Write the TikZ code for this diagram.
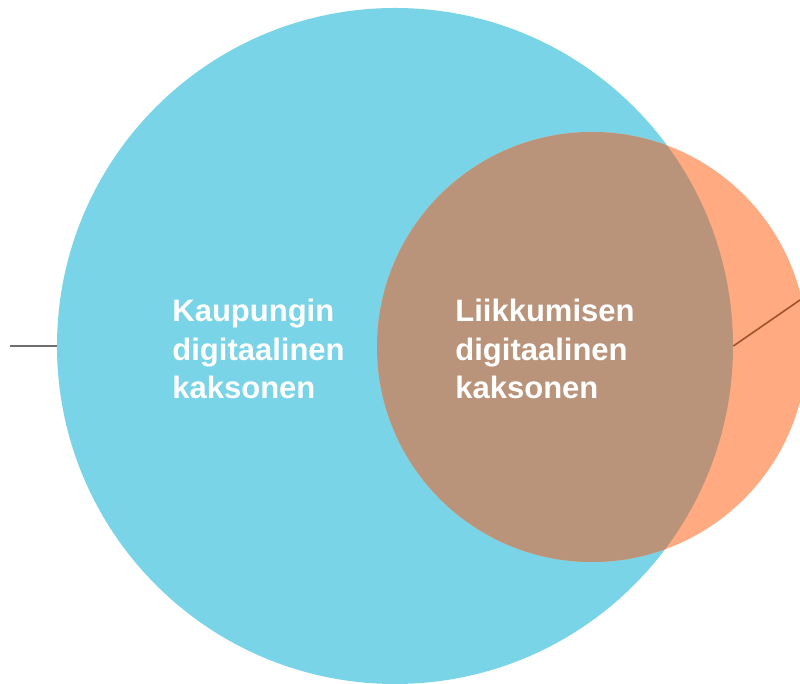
\documentclass[tikz,border=0pt]{standalone}
\usepackage{fontspec}
\setmainfont{Liberation Sans}
\usepackage{tikz}
\usetikzlibrary{positioning}

\definecolor{cityblue}{RGB}{120,212,230}
\definecolor{moveorange}{RGB}{255,170,128}
\definecolor{overlapbrown}{RGB}{185,148,122}
\definecolor{linegray}{RGB}{110,110,110}
\definecolor{linebrown}{RGB}{160,82,45}

\tikzset{
  twinlabel/.style={anchor=west,align=left,text=white,
    font=\fontsize{15.5pt}{19.3pt}\selectfont\bfseries,inner sep=0pt},
}

\begin{document}
\begin{tikzpicture}[x=0.5pt,y=0.5pt]
            \useasboundingbox (0,0) rectangle (800,684);
            % Ympyrat
            \node[circle,fill=cityblue,minimum size=338pt,inner sep=0pt] (city) at (395,338) {};
            \node[circle,fill=moveorange,minimum size=215pt,inner sep=0pt] (move) at (592,337) {};
            \begin{scope}
              \clip (592,337) circle (215);
              \fill[overlapbrown] (395,338) circle (338);
            \end{scope}

            % Viivat
            \coordinate (leftend) at (10,338);
            \coordinate (rightend) at (800,384);
            \draw[linegray,line width=0.8pt] (city.west) -- (leftend);
            \draw[linebrown,line width=0.8pt] (city.east) -- (rightend);

            % Tekstit
            \node[twinlabel] (citytext) at (172,335) {Kaupungin\\digitaalinen\\kaksonen};
            \node[twinlabel] (movetext) at (455,335) {Liikkumisen\\digitaalinen\\kaksonen};

        \end{tikzpicture}
\end{document}
